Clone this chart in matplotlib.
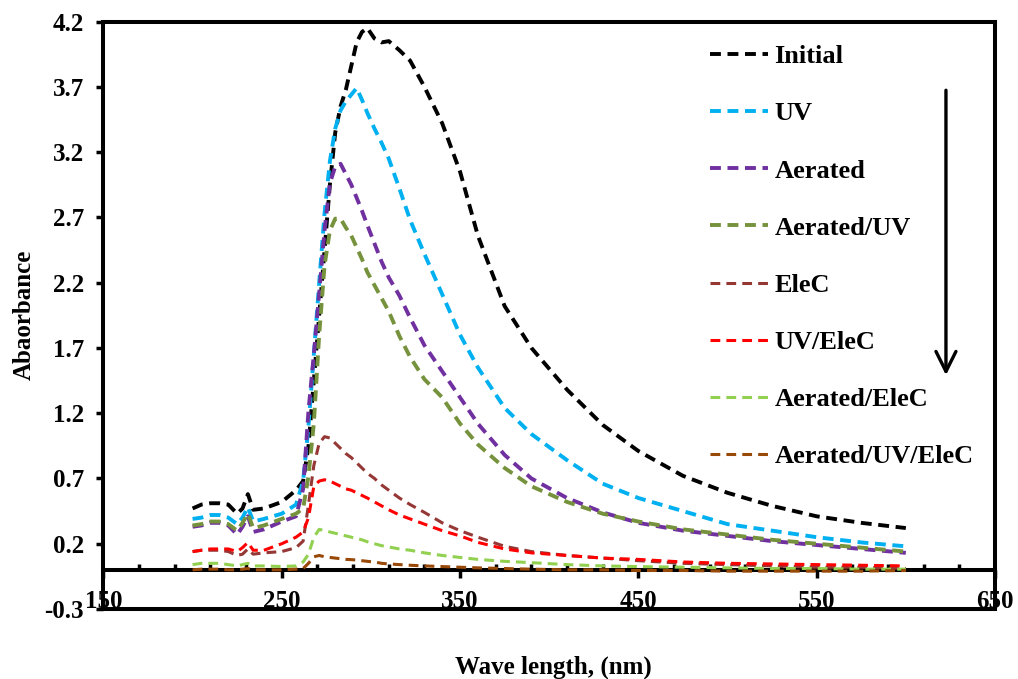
import matplotlib
matplotlib.use("Agg")
import matplotlib.pyplot as plt
from matplotlib.ticker import MultipleLocator, NullFormatter

plt.rcParams["font.family"] = ["Liberation Serif", "DejaVu Serif"]
plt.rcParams["font.weight"] = "bold"
plt.rcParams["axes.labelweight"] = "bold"

# wavelength grid (nm)
wavelength = [200, 205, 210, 215, 220, 225, 228, 231, 234, 240, 250, 258, 262, 265,
              268, 271, 274, 277, 280, 283, 286, 289, 292, 295, 298, 302, 306, 310,
              316, 322, 330, 340, 350, 360, 375, 390, 410, 430, 450, 475, 500, 525,
              550, 575, 600]

initial = [0.47, 0.50, 0.51, 0.51, 0.50, 0.43, 0.47, 0.58, 0.46, 0.47, 0.52, 0.61, 0.68, 0.95,
           1.45, 1.95, 2.45, 2.95, 3.35, 3.55, 3.68, 3.86, 4.04, 4.12, 4.15, 4.07, 4.04, 4.05,
           3.98, 3.90, 3.70, 3.42, 3.05, 2.56, 2.02, 1.70, 1.38, 1.11, 0.91, 0.72, 0.59, 0.49,
           0.41, 0.36, 0.32]
uv = [0.39, 0.40, 0.42, 0.42, 0.40, 0.35, 0.40, 0.48, 0.37, 0.39, 0.43, 0.50, 0.68, 1.10,
      1.65, 2.20, 2.73, 3.13, 3.38, 3.52, 3.59, 3.64, 3.69, 3.60, 3.50, 3.38, 3.27, 3.15,
      2.92, 2.68, 2.42, 2.11, 1.80, 1.55, 1.24, 1.04, 0.84, 0.66, 0.55, 0.45, 0.35, 0.30,
      0.25, 0.21, 0.18]
aerated = [0.33, 0.34, 0.36, 0.36, 0.34, 0.27, 0.33, 0.41, 0.29, 0.31, 0.37, 0.41, 0.62, 1.22,
           1.65, 2.12, 2.60, 2.96, 3.09, 3.11, 3.03, 2.95, 2.85, 2.75, 2.64, 2.50, 2.36, 2.24,
           2.10, 1.93, 1.72, 1.52, 1.32, 1.12, 0.88, 0.70, 0.55, 0.44, 0.36, 0.30, 0.26, 0.22,
           0.19, 0.16, 0.13]
aerated_uv = [0.34, 0.35, 0.37, 0.37, 0.35, 0.30, 0.36, 0.43, 0.32, 0.34, 0.39, 0.43, 0.47, 0.72,
              1.12, 1.80, 2.33, 2.60, 2.69, 2.69, 2.62, 2.56, 2.47, 2.38, 2.28, 2.18, 2.08, 1.98,
              1.79, 1.63, 1.46, 1.32, 1.12, 0.96, 0.78, 0.64, 0.52, 0.43, 0.37, 0.31, 0.27, 0.23,
              0.20, 0.17, 0.14]
elec = [0.14, 0.15, 0.15, 0.15, 0.14, 0.11, 0.12, 0.16, 0.12, 0.13, 0.14, 0.17, 0.22, 0.50,
        0.80, 0.97, 1.02, 1.01, 0.97, 0.93, 0.89, 0.86, 0.82, 0.78, 0.74, 0.70, 0.65, 0.61,
        0.55, 0.50, 0.44, 0.36, 0.30, 0.25, 0.18, 0.14, 0.11, 0.09, 0.07, 0.05, 0.04, 0.03,
        0.02, 0.02, 0.01]
uv_elec = [0.14, 0.15, 0.16, 0.16, 0.16, 0.14, 0.17, 0.21, 0.15, 0.15, 0.20, 0.25, 0.29, 0.40,
           0.64, 0.68, 0.69, 0.68, 0.66, 0.64, 0.62, 0.61, 0.59, 0.57, 0.55, 0.52, 0.49, 0.46,
           0.42, 0.39, 0.35, 0.30, 0.26, 0.21, 0.16, 0.13, 0.11, 0.09, 0.08, 0.06, 0.05, 0.045,
           0.04, 0.035, 0.03]
aerated_elec = [0.04, 0.05, 0.05, 0.05, 0.04, 0.03, 0.04, 0.05, 0.03, 0.03, 0.025, 0.03, 0.06, 0.12,
                0.25, 0.31, 0.30, 0.29, 0.28, 0.27, 0.26, 0.25, 0.24, 0.23, 0.215, 0.20, 0.185, 0.175,
                0.16, 0.15, 0.13, 0.11, 0.095, 0.08, 0.065, 0.055, 0.04, 0.03, 0.025, 0.02, 0.015, 0.01,
                0.01, 0.005, 0.005]
aerated_uv_elec = [0.0, 0.005, 0.005, 0.005, 0.0, 0.0, 0.005, 0.01, 0.0, 0.0, 0.0, 0.005, 0.01, 0.05,
                   0.10, 0.11, 0.10, 0.095, 0.09, 0.085, 0.08, 0.078, 0.075, 0.07, 0.065, 0.06, 0.05, 0.045,
                   0.04, 0.035, 0.03, 0.025, 0.02, 0.015, 0.01, 0.005, 0.0, 0.0, -0.005, -0.005, -0.01, -0.01,
                   -0.01, -0.01, -0.005]

labels = ["Initial", "UV", "Aerated", "Aerated/UV", "EleC", "UV/EleC",
          "Aerated/EleC", "Aerated/UV/EleC"]
series = [initial, uv, aerated, aerated_uv, elec, uv_elec, aerated_elec, aerated_uv_elec]
colors = ["#000000", "#00B0F0", "#7030A0", "#76923C", "#953735", "#FF0000",
          "#92D050", "#984807"]
thick = [True, True, True, True, False, False, False, False]

xticks = [150, 250, 350, 450, 550, 650]
yticks = [-0.3, 0.2, 0.7, 1.2, 1.7, 2.2, 2.7, 3.2, 3.7, 4.2]

fig = plt.figure(figsize=(10.18, 6.79), dpi=100)
ax = fig.add_axes([0.1016, 0.1031, 0.8758, 0.8652])

for vals, lab, col, th in zip(series, labels, colors, thick):
    if th:
        ax.plot(wavelength, vals, color=col, lw=2.8, ls=(0, (2.8, 1.7)),
                dash_capstyle="butt", label=lab, zorder=3)
    else:
        ax.plot(wavelength, vals, color=col, lw=2.2, ls=(0, (3.2, 2.0)),
                dash_capstyle="butt", label=lab, zorder=3)

ax.set_xlim(xticks[0], xticks[-1])
ax.set_ylim(yticks[0], yticks[-1])
ax.set_xticks(xticks)
ax.set_yticks(yticks)
ax.set_yticklabels([f"{v:.1f}" for v in yticks])

for s in ax.spines.values():
    s.set_linewidth(2.9)

ax.tick_params(axis="y", direction="out", length=5, width=2.5, labelsize=18, pad=9)
ax.tick_params(axis="x", length=0, labelsize=18, pad=-14)

# axis line through zero with its own ticks
zero_pos = (0 - yticks[0]) / (yticks[-1] - yticks[0])
sec = ax.secondary_xaxis(zero_pos)
sec.spines["bottom"].set_linewidth(2.9)
sec.xaxis.set_major_locator(MultipleLocator(100, offset=50))
sec.xaxis.set_minor_locator(MultipleLocator(20, offset=10))
sec.xaxis.set_major_formatter(NullFormatter())
sec.tick_params(which="major", direction="out", length=6, width=2.5)
sec.tick_params(which="minor", direction="in", length=4, width=2.5)

ax.set_xlabel("Wave length, (nm)", fontsize=18, va="center")
ax.xaxis.set_label_coords(0.505, -0.1)
ax.set_ylabel("Abaorbance", fontsize=18, va="center")
ax.yaxis.set_label_coords(-0.089, 0.5)

ax.legend(loc="upper left", bbox_to_anchor=(0.6974, 0.934), bbox_transform=fig.transFigure,
          frameon=False, fontsize=19, handlelength=2.2, handletextpad=0.25,
          labelspacing=1.275, borderpad=0, borderaxespad=0)

ax.annotate("", xy=(0.945, 0.398), xytext=(0.945, 0.883), xycoords="axes fraction",
            arrowprops=dict(arrowstyle="->,head_length=0.72,head_width=0.36",
                            lw=2.4, color="black", mutation_scale=20,
                            shrinkA=0, shrinkB=0))

fig.savefig("out.png", dpi=100)
